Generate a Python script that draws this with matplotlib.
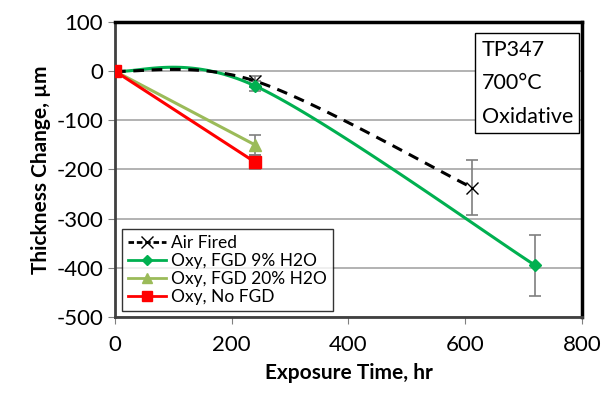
"""
plot.py
-------
Thickness change vs exposure time for TP347 at 700°C (oxidative).
"""
import numpy as np
import matplotlib
matplotlib.use("Agg")
import matplotlib.pyplot as plt
from matplotlib.lines import Line2D

# === Data ===
air_x = [0, 240, 612]
air_y = [0, -20, -237]
air_err = [0, 10, 56]

fgd9_x = [0, 240, 720]
fgd9_y = [0, -30, -395]
fgd9_err = [0, 10, 62]

fgd20_x = [0, 240]
fgd20_y = [0, -150]
fgd20_err = [0, 20]

nofgd_x = [0, 240]
nofgd_y = [0, -185]
nofgd_err = [0, 15]

y_ticks = [100, 0, -100, -200, -300, -400, -500]
x_ticks = [0, 200, 400, 600, 800]


# === Helpers ===
def smooth_curve(xs, ys, n=60):
    """Excel-style smoothed line through points (Catmull-Rom Bezier)."""
    pts = np.column_stack([xs, ys]).astype(float)
    out = []
    for i in range(len(pts) - 1):
        p0 = pts[i - 1] if i > 0 else pts[i]
        p1, p2 = pts[i], pts[i + 1]
        p3 = pts[i + 2] if i + 2 < len(pts) else pts[i + 1]
        c1 = p1 + (p2 - p0) / 6.0
        c2 = p2 - (p3 - p1) / 6.0
        t = np.linspace(0, 1, n)[:, None]
        seg = ((1 - t) ** 3) * p1 + 3 * ((1 - t) ** 2) * t * c1 \
            + 3 * (1 - t) * t ** 2 * c2 + t ** 3 * p2
        out.append(seg)
    curve = np.vstack(out)
    return curve[:, 0], curve[:, 1]


plt.rcParams["font.family"] = ["Lato", "DejaVu Sans"]
plt.rcParams["axes.unicode_minus"] = False

fig = plt.figure(figsize=(6.03, 4.05), dpi=100)
ax = fig.add_axes([0.1907, 0.2173, 0.7743, 0.7284])

err_kw = dict(fmt="none", ecolor="#7f7f7f", elinewidth=1.2, capsize=4, capthick=1.2, zorder=2)

# Air fired
sx, sy = smooth_curve(air_x, air_y)
ax.plot(sx, sy, color="black", lw=2.2, ls=(0, (3.5, 2.5)), zorder=4)
ax.errorbar(air_x[1:], air_y[1:], yerr=air_err[1:], **err_kw)
ax.plot(air_x[1:], air_y[1:], "x", color="black", ms=8, mew=1.0, zorder=5)

# Oxy, FGD 9% H2O
sx, sy = smooth_curve(fgd9_x, fgd9_y)
ax.plot(sx, sy, color="#00b050", lw=2.2, zorder=3)
ax.errorbar(fgd9_x[1:], fgd9_y[1:], yerr=fgd9_err[1:], **err_kw)
ax.plot(fgd9_x[1:], fgd9_y[1:], "D", color="#00b050", ms=6, zorder=5)

# Oxy, FGD 20% H2O
ax.plot(fgd20_x, fgd20_y, color="#9bbb59", lw=2.2, zorder=3)
ax.errorbar(fgd20_x[1:], fgd20_y[1:], yerr=fgd20_err[1:], **err_kw)
ax.plot(fgd20_x[1:], fgd20_y[1:], "^", color="#9bbb59", ms=9, zorder=5)

# Oxy, No FGD
ax.plot(nofgd_x, nofgd_y, color="#ff0000", lw=2.2, zorder=3)
ax.errorbar(nofgd_x[1:], nofgd_y[1:], yerr=nofgd_err[1:], **err_kw)
ax.plot(nofgd_x, nofgd_y, "s", color="#ff0000", ms=8, zorder=6)

# === Axes styling ===
ax.set_xlim(0, 800)
ax.set_ylim(-500, 100)
ax.set_xticks(x_ticks)
ax.set_yticks(y_ticks)
ax.tick_params(labelsize=16, length=5, color="#808080", colors="black")
ax.tick_params(axis="x", pad=8)
ax.yaxis.grid(True, color="#a6a6a6", lw=1.2)
ax.set_axisbelow(True)
for side in ["top", "right"]:
    ax.spines[side].set_linewidth(2.5)
    ax.spines[side].set_color("black")
for side in ["left", "bottom"]:
    ax.spines[side].set_linewidth(2.0)
    ax.spines[side].set_color("#404040")

ax.set_xlabel("Exposure Time, hr", fontsize=15, fontweight="bold", labelpad=6)
ax.set_ylabel("Thickness Change, µm", fontsize=15, fontweight="bold", labelpad=4)

# === Legend ===
handles = [
    Line2D([], [], color="black", lw=2, ls=(0, (2, 1)), marker="x", ms=8, mew=1),
    Line2D([], [], color="#00b050", lw=2, marker="D", ms=5),
    Line2D([], [], color="#9bbb59", lw=2, marker="^", ms=7),
    Line2D([], [], color="#ff0000", lw=2, marker="s", ms=7),
]
labels = ["Air Fired", "Oxy, FGD 9% H2O", "Oxy, FGD 20% H2O", "Oxy, No FGD"]
leg = ax.legend(handles, labels, loc="lower left", bbox_to_anchor=(0.015, 0.02),
                fontsize=12.5, frameon=True, fancybox=False, handlelength=2.2,
                handletextpad=0.3, labelspacing=0.12, borderpad=0.35,
                borderaxespad=0)
leg.get_frame().set_edgecolor("black")
leg.get_frame().set_linewidth(1.0)

# === Text box ===
ax.text(0.785, 0.94, "TP347\n700°C\nOxidative", transform=ax.transAxes,
        ha="left", va="top", fontsize=15.5, linespacing=1.85,
        bbox=dict(boxstyle="square,pad=0.3", fc="white", ec="black", lw=1.0))

fig.savefig("out.png", dpi=100)
